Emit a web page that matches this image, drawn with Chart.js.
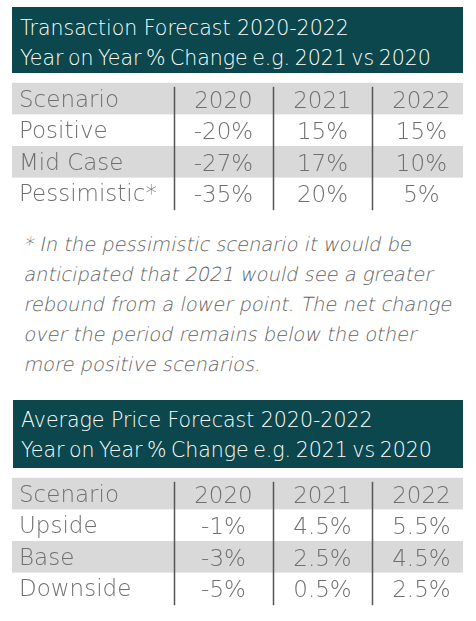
<!DOCTYPE html>
<html>
<head>
<meta charset="utf-8">
<script src="https://cdn.jsdelivr.net/npm/chart.js@4.4.1/dist/chart.umd.min.js"></script>
<style>
  body { margin: 0; background: #fff; font-family: "DejaVu Sans", sans-serif; }
  #page { position: relative; width: 476px; height: 621px; overflow: hidden; }
  .head { position: absolute; left: 12px; width: 451px; height: 66px; background: #0b474c;
          color: #fff; font-weight: 200; font-size: 20.5px; line-height: 30px; box-sizing: border-box;
          padding: 6px 0 0 8px; white-space: nowrap; }
  .head .l2 { word-spacing: -2px; }
  .note { position: absolute; left: 23px; top: 230px; color: #606060;
          font-weight: 200; font-size: 19.4px; line-height: 30px; white-space: nowrap; }
  /* ExtraLight has no italic face, so slant it by hand */
  .note span { display: block; transform: skewX(-12deg); transform-origin: 0 22px; }
  .tbl { position: absolute; left: 0; width: 476px; height: 154px; }
</style>
</head>
<body>
<div id="page">
  <div class="head" style="top:7px"><div>Transaction Forecast 2020-2022</div><div class="l2">Year on Year % Change e.g. 2021 vs 2020</div></div>
  <div class="tbl" style="top:69px"><canvas id="txTable"></canvas></div>
  <div class="note"><span>* In the pessimistic scenario it would be</span><span>anticipated that 2021 would see a greater</span><span>rebound from a lower point. The net change</span><span>over the period remains below the other</span><span>more positive scenarios.</span></div>
  <div class="head" style="top:400px;left:13px;width:450px;height:68px;padding-top:5px"><div>Average Price Forecast 2020-2022</div><div class="l2">Year on Year % Change e.g. 2021 vs 2020</div></div>
  <div class="tbl" style="top:464px"><canvas id="priceTable"></canvas></div>
</div>
<script>
// table data
const years = [2020, 2021, 2022];
const headerLabel = 'Scenario';

const txScenarios = ['Positive', 'Mid Case', 'Pessimistic*'];
const txPositive = [-20, 15, 15];
const txMidCase = [-27, 17, 10];
const txPessimistic = [-35, 20, 5];

const priceScenarios = ['Upside', 'Base', 'Downside'];
const priceUpside = [-1, 4.5, 5.5];
const priceBase = [-3, 2.5, 4.5];
const priceDownside = [-5, 0.5, 2.5];

const textGrey = '#6f6f6f';
const cellFont = '200 23px "DejaVu Sans", sans-serif';

// grey bands, column rules and cell text, all placed with the chart scales
const tablePlugin = {
  id: 'tableCells',
  beforeDraw(chart) {
    const ctx = chart.ctx;
    const y = chart.scales.y;
    const rowH = y.getPixelForValue(1) - y.getPixelForValue(0);
    ctx.save();
    ctx.fillStyle = '#d9d9d9';
    y.getLabels().forEach((lab, r) => {
      if (r % 2 === 0) {
        const yc = y.getPixelForValue(r);
        ctx.fillRect(12, yc - rowH / 2, chart.chartArea.right - 12, rowH);
      }
    });
    ctx.restore();
  },
  afterDraw(chart) {
    const ctx = chart.ctx;
    const x = chart.scales.x;
    const y = chart.scales.y;
    const area = chart.chartArea;
    ctx.save();
    // column rules
    ctx.strokeStyle = '#555';
    ctx.lineWidth = 1.5;
    years.forEach(yr => {
      const px = Math.round(x.getPixelForValue(yr - 0.5)) + 0.5;
      ctx.beginPath();
      ctx.moveTo(px, area.top + 4);
      ctx.lineTo(px, area.bottom + 1);
      ctx.stroke();
    });
    // header row and values
    ctx.font = cellFont;
    ctx.fillStyle = textGrey;
    ctx.textAlign = 'center';
    ctx.textBaseline = 'middle';
    years.forEach(yr => {
      ctx.fillText(String(yr), x.getPixelForValue(yr), y.getPixelForValue(0) + 3);
    });
    chart.data.datasets.forEach((ds, r) => {
      ds.data.forEach((v, c) => {
        ctx.fillText(v + '%', x.getPixelForValue(years[c]), y.getPixelForValue(r + 1) + 3);
      });
    });
    ctx.restore();
  }
};

function makeTable(id, scenarios, series) {
  new Chart(document.getElementById(id), {
    type: 'bar',
    data: {
      labels: [headerLabel].concat(scenarios),
      datasets: series.map((vals, i) => ({ label: scenarios[i], data: vals, hidden: true }))
    },
    options: {
      responsive: true,
      maintainAspectRatio: false,
      animation: false,
      indexAxis: 'y',
      layout: { padding: { left: 19, right: 13, top: 0, bottom: 0 } },
      plugins: { legend: { display: false }, tooltip: { enabled: false } },
      scales: {
        x: { type: 'linear', min: 2019.5, max: 2022.42, display: false },
        y: {
          type: 'category',
          grid: { display: false },
          border: { display: false },
          ticks: {
            autoSkip: false,
            crossAlign: 'far',
            padding: 0,
            labelOffset: 2,
            color: textGrey,
            font: { family: '"DejaVu Sans", sans-serif', size: 23, weight: 200 }
          },
          afterFit(scale) { scale.width = 155; }
        }
      }
    },
    plugins: [tablePlugin]
  });
}

makeTable('txTable', txScenarios, [txPositive, txMidCase, txPessimistic]);
makeTable('priceTable', priceScenarios, [priceUpside, priceBase, priceDownside]);
</script>
</body>
</html>
